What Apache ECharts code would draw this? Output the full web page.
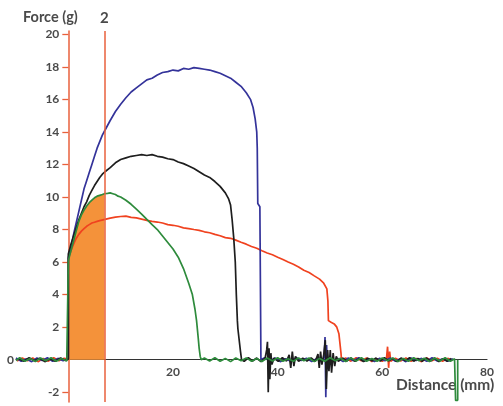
<!DOCTYPE html>
<html>
<head>
<meta charset="utf-8">
<script src="https://cdn.jsdelivr.net/npm/echarts@6/dist/echarts.min.js"></script>
<style>
  html, body { margin: 0; padding: 0; background: #ffffff; }
  #chart { width: 503px; height: 406px; }
</style>
</head>
<body>
<div id="chart"></div>
<script>
// Tick values
const yTicks = [-2, 2, 4, 6, 8, 10, 12, 14, 16, 18, 20];
const yTickMarks = [-2, 0, 2, 4, 6, 8, 10, 12, 14, 16, 18, 20];
const xTicks = [20, 40, 60, 80];
const markerDistance = 6.9;

// Blue trace: force (g) vs distance (mm)
const blueLead = [[-10,0.1],[-9,-0.1],[-8,0.05],[-7,-0.12],[-6,0.1],[-5,-0.05],[-4,0.12],[-3,-0.1],[-2,0.08],[-1,-0.06],[0,0.05]];
const blueCurve = [[0,6.3],[0.5,6.9],[1,7.7],[1.5,8.4],[2,9.1],[2.5,9.8],[3,10.5],[3.5,11.0],[4,11.5],[4.5,12.0],[5,12.5],[5.5,13.0],[6,13.4],[6.5,13.8],[7,14.1],[8,14.7],[9,15.25],[10,15.7],[11,16.1],[12,16.45],[13,16.7],[14,16.95],[15,17.2],[16,17.3],[17,17.5],[18,17.65],[19,17.7],[20,17.8],[21,17.75],[22,17.9],[23,17.85],[24,17.95],[25,17.9],[26,17.85],[27,17.8],[28,17.7],[29,17.6],[30,17.45],[31,17.3],[32,17.05],[33,16.8],[34,16.4],[34.8,16.0],[35.3,15.5],[35.7,14.8],[36,14.0],[36.1,13.0],[36.2,9.6],[36.6,9.4],[36.8,0.0]];
const blueTail = [[37.5,0.12],[38.5,-0.08],[39.5,0.1],[40.5,-0.12],[41.5,0.06],[42.5,-0.1],[43.5,0.13],[44.5,-0.05],[45.5,0.09],[46.5,-0.11],[47.5,0.07],[48.5,-0.09],[48.9,0.2],[49.05,1.4],[49.2,-2.3],[49.35,0.9],[49.5,-0.6],[49.8,0.1],[50.5,-0.1],[51.5,0.08],[52.5,-0.12],[53.5,0.1],[54.5,-0.07],[55.5,0.12],[56.5,-0.1],[57.5,0.05],[58.5,-0.11],[59.5,0.09],[60.5,-0.06],[61.5,0.11],[62.5,-0.09],[63.5,0.07],[64.5,-0.12],[65.5,0.1],[66.5,-0.05],[67.5,0.08],[68.5,-0.1],[69.5,0.12],[70.5,-0.08],[71.5,0.06],[72.5,-0.1],[73.5,0.05]];

// Black trace
const blackLead = [[-9.5,0.06],[-8.5,-0.1],[-7.5,0.12],[-6.5,-0.07],[-5.5,0.09],[-4.5,-0.12],[-3.5,0.05],[-2.5,-0.09],[-1.5,0.11],[-0.5,-0.05],[0,0.04]];
const blackCurve = [[0,6.5],[0.5,7.1],[1,7.6],[1.5,8.1],[2,8.6],[2.5,9.0],[3,9.4],[3.5,9.7],[4,10.1],[4.5,10.4],[5,10.7],[5.5,10.95],[6,11.2],[6.5,11.4],[7,11.55],[8,11.8],[9,12.1],[10,12.3],[11,12.4],[12,12.5],[13,12.55],[14,12.6],[15,12.55],[16,12.6],[17,12.5],[18,12.45],[19,12.35],[20,12.3],[21,12.15],[22,12.05],[23,11.9],[24,11.75],[25,11.55],[26,11.35],[27,11.2],[28,10.95],[29,10.65],[30,10.25],[30.6,9.9],[31,9.5],[31.3,8.6],[31.6,7.5],[31.9,6.0],[32.1,4.0],[32.3,2.4],[32.4,1.9],[32.7,1.8],[32.9,0.5],[33.1,0]];
const blackTail = [[33.6,-0.1],[34.4,0.12],[35.2,-0.08],[36,0.1],[36.8,-0.12],[37.6,0.1],[37.9,0.6],[38.05,1.1],[38.2,-2.0],[38.35,0.7],[38.5,-1.2],[38.7,0.4],[38.9,-0.3],[39.3,0.1],[40.1,-0.1],[40.9,0.12],[41.7,-0.08],[42.2,0.3],[42.5,-0.5],[42.8,0.5],[43.1,-0.4],[43.4,0.2],[44,-0.1],[44.8,0.1],[45.6,-0.09],[46.4,0.11],[47.2,-0.1],[47.7,0.35],[47.95,-0.5],[48.2,0.5],[48.45,-0.3],[48.8,0.3],[49.1,1.2],[49.3,-1.8],[49.55,0.6],[49.8,-0.7],[50.05,0.6],[50.3,-0.8],[50.6,0.4],[50.9,-0.4],[51.2,0.2],[51.6,-0.1],[52.4,0.1],[53.2,-0.08],[54,0.11],[54.8,-0.1],[55.6,0.07],[56.4,-0.12],[57.2,0.09],[58,-0.06],[58.8,0.1],[59.6,-0.09],[60.4,0.12],[61.2,-0.07],[62,0.08],[62.8,-0.11],[63.6,0.1],[64.4,-0.06],[65.2,0.12],[66,-0.09],[66.8,0.07],[67.6,-0.1],[68.4,0.11],[69.2,-0.08],[70,0.1],[70.8,-0.12],[71.6,0.06],[72.4,-0.09],[73.2,0.08]];

// Red trace
const redLead = [[-9.8,-0.08],[-8.8,0.11],[-7.8,-0.06],[-6.8,0.1],[-5.8,-0.12],[-4.8,0.07],[-3.8,-0.09],[-2.8,0.12],[-1.8,-0.07],[-0.8,0.09],[0,0.02]];
const redCurve = [[0,6.2],[0.5,6.7],[1,7.1],[1.5,7.45],[2,7.7],[2.5,7.9],[3,8.05],[3.5,8.2],[4,8.3],[4.5,8.4],[5,8.45],[5.5,8.5],[6,8.55],[7,8.62],[8,8.7],[9,8.76],[10,8.8],[11,8.82],[12,8.75],[13,8.72],[14,8.64],[15,8.56],[16,8.5],[17,8.46],[18,8.4],[19,8.3],[20,8.26],[21,8.2],[22,8.1],[23,8.06],[24,8.0],[25,7.95],[26,7.86],[27,7.8],[28,7.7],[29,7.62],[30,7.5],[31,7.46],[32,7.35],[33,7.22],[34,7.1],[35,6.96],[36,6.85],[37,6.7],[38,6.56],[39,6.45],[40,6.3],[41,6.16],[42,6.0],[43,5.86],[44,5.7],[45,5.5],[46,5.36],[47,5.15],[48,4.95],[48.8,4.7],[49.4,4.35],[49.6,3.6],[49.7,2.4],[50.2,2.3],[50.8,2.2],[51.3,2.0],[51.7,1.6],[51.9,1.0],[52.1,0.4],[52.2,0]];
const redTail = [[53,0.1],[54,-0.09],[55,0.12],[56,-0.07],[57,0.1],[58,-0.11],[59,0.06],[60,-0.1],[60.8,0.1],[61.0,0.8],[61.2,-0.5],[61.4,0.5],[61.6,-0.1],[62.5,0.09],[63.5,-0.08],[64.5,0.11],[65.5,-0.1],[66.5,0.07],[67.5,-0.12],[68.5,0.1],[69.5,-0.06],[70.5,0.09],[71.5,-0.1],[72.5,0.08],[73.4,-0.05]];

// Green trace
const greenLead = [[-10,-0.05],[-9.3,0.12],[-8.3,-0.1],[-7.3,0.08],[-6.3,-0.11],[-5.3,0.1],[-4.3,-0.07],[-3.3,0.12],[-2.3,-0.1],[-1.3,0.07],[-0.3,-0.08],[0,0.03]];
const greenCurve = [[0,6.1],[0.5,6.7],[1,7.3],[1.5,7.9],[2,8.5],[2.5,8.9],[3,9.2],[3.5,9.45],[4,9.65],[4.5,9.8],[5,9.95],[5.5,10.05],[6,10.1],[6.5,10.15],[6.9,10.2],[7.5,10.22],[8,10.25],[8.5,10.2],[9,10.15],[9.5,10.05],[10,10.0],[11,9.8],[12,9.55],[13,9.25],[14,8.95],[15,8.62],[16,8.3],[17,8.0],[18,7.6],[19,7.2],[20,6.8],[21,6.3],[22,5.6],[23,4.7],[23.7,4.0],[24.2,3.1],[24.5,2.4],[24.8,1.4],[25.0,0.7],[25.2,0.2],[25.4,0]];
const greenTail = [[26,0.1],[27,-0.08],[28,0.12],[29,-0.1],[30,0.08],[31,-0.12],[32,0.1],[33,-0.06],[34,0.11],[35,-0.09],[36,0.07],[37,-0.11],[38,0.1],[39,-0.08],[40,0.12],[41,-0.1],[42,0.06],[43,-0.09],[44,0.11],[45,-0.07],[46,0.1],[47,-0.12],[48,0.08],[49,-0.1],[50,0.12],[51,-0.06],[52,0.09],[53,-0.11],[54,0.1],[55,-0.08],[56,0.12],[57,-0.1],[58,0.07],[59,-0.09],[60,0.11],[61,-0.07],[62,0.1],[63,-0.12],[64,0.08],[65,-0.1],[66,0.12],[67,-0.06],[68,0.09],[69,-0.11],[70,0.1],[71,-0.08],[72,0.12],[73,-0.1],[73.8,0.06],[74.0,0.0],[74.0,-2.5],[74.4,-2.5],[74.4,0.0]];

// Shaded work area: under the green trace from 0 to the marker
const shadedArea = greenCurve.filter(p => p[0] <= markerDistance);

const blueForce = blueLead.concat(blueCurve, blueTail);
const blackForce = blackLead.concat(blackCurve, blackTail);
const redForce = redLead.concat(redCurve, redTail);
const greenForce = greenLead.concat(greenCurve, greenTail);

const X_MIN = -10, X_MAX = 80, Y_MIN = -2.6, Y_MAX = 20.2;
const AXIS_RED = '#e8603c';
const TEXT = '#4a4a4a';
const FONT = 'Lato, "Open Sans", sans-serif';

function trace(name, data, color) {
  return {
    name: name,
    type: 'line',
    data: data,
    showSymbol: false,
    symbol: 'none',
    lineStyle: { color: color, width: 1.7 },
    z: 3
  };
}

const labelStyle = {
  color: TEXT,
  fontFamily: FONT,
  fontWeight: 'bold',
  fontSize: 12
};

const chart = echarts.init(document.getElementById('chart'), null, { renderer: 'canvas' });
chart.setOption({
  animation: false,
  backgroundColor: '#ffffff',
  grid: { left: 16, right: 16, top: 31, bottom: 4, outerBoundsMode: 'none' },
  xAxis: {
    type: 'value',
    position: 'bottom',
    min: X_MIN,
    max: X_MAX,
    splitLine: { show: false },
    axisLine: { onZero: false, lineStyle: { color: '#333333', width: 1.2 } },
    axisTick: { show: false },
    axisLabel: Object.assign({ customValues: xTicks, margin: 6 }, labelStyle)
  },
  yAxis: [
    {
      // force axis, drawn through distance = 0
      type: 'value',
      position: 'left',
      min: Y_MIN,
      max: Y_MAX,
      splitLine: { show: false },
      axisLine: { onZero: false, lineStyle: { color: AXIS_RED, width: 1.5 } },
      axisTick: { customValues: yTickMarks, length: 6, lineStyle: { color: AXIS_RED, width: 1.3 } },
      axisLabel: Object.assign({ customValues: yTicks, margin: 9 }, labelStyle)
    },
    {
      // baseline label at the left edge of the plot
      type: 'value',
      position: 'left',
      min: Y_MIN,
      max: Y_MAX,
      splitLine: { show: false },
      axisLine: { show: false, onZero: false },
      axisTick: { show: false },
      axisLabel: Object.assign({ customValues: [0], margin: 2 }, labelStyle)
    }
  ],
  graphic: [
    {
      type: 'text',
      left: 23,
      top: 10,
      style: { text: 'Force (g)', fill: TEXT, font: 'bold 14.5px ' + FONT }
    },
    {
      type: 'text',
      left: 396,
      top: 377,
      style: { text: 'Distance (mm)', fill: TEXT, font: 'bold 15.5px ' + FONT }
    }
  ],
  series: [
    {
      name: 'area',
      type: 'line',
      data: shadedArea,
      showSymbol: false,
      symbol: 'none',
      lineStyle: { width: 0, opacity: 0 },
      areaStyle: { color: '#f4923a', opacity: 1 },
      z: 1,
      markLine: {
        silent: true,
        symbol: ['none', 'none'],
        lineStyle: { color: AXIS_RED, width: 1.5, type: 'solid' },
        label: {
          show: true,
          position: 'end',
          formatter: '2',
          color: TEXT,
          fontFamily: FONT,
          fontWeight: 'bold',
          fontSize: 15
        },
        data: [{ xAxis: markerDistance }]
      }
    },
    trace('red', redForce, '#f0421f'),
    trace('blue', blueForce, '#34339a'),
    trace('black', blackForce, '#1e1e1e'),
    trace('green', greenForce, '#2e8b3c')
  ]
});

// Move the axes onto the origin using the scales themselves
const zeroX = chart.convertToPixel({ xAxisIndex: 0 }, 0);
const leftX = chart.convertToPixel({ xAxisIndex: 0 }, X_MIN);
const zeroY = chart.convertToPixel({ yAxisIndex: 0 }, 0);
const bottomY = chart.convertToPixel({ yAxisIndex: 0 }, Y_MIN);
chart.setOption({
  xAxis: { offset: -(bottomY - zeroY) },
  yAxis: [{ offset: -(zeroX - leftX) }, {}]
});
</script>
</body>
</html>
